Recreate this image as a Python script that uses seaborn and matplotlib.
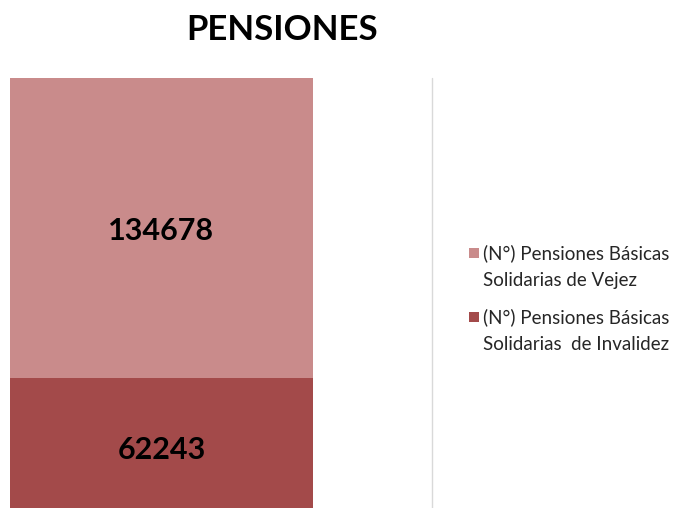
import matplotlib
matplotlib.use("Agg")
import matplotlib.pyplot as plt
import matplotlib.transforms as mtransforms
import seaborn as sns
import pandas as pd
from matplotlib.lines import Line2D
from matplotlib.patches import Rectangle

sns.set_theme(style="white")
plt.rcParams['font.family'] = ['Lato', 'DejaVu Sans']

title = "PENSIONES"
categories = ["Pensiones"]
series_names = ["(N°) Pensiones Básicas\nSolidarias de Vejez",
                "(N°) Pensiones Básicas\nSolidarias  de Invalidez"]
vejez = [134678]
invalidez = [62243]
colors = ["#C98B8B", "#A34A4A"]

df = pd.DataFrame({"cat": categories, "vejez": vejez, "invalidez": invalidez})
df["total"] = df["vejez"] + df["invalidez"]

W, H = 680, 508
fig = plt.figure(figsize=(6.8, 5.08), dpi=100)
ax = fig.add_axes([10/W, -8/H, 303/W, 438/H])

sns.barplot(data=df, x="cat", y="total", color=colors[0], width=1.0,
            saturation=1, ax=ax, linewidth=0)
sns.barplot(data=df, x="cat", y="invalidez", color=colors[1], width=1.0,
            saturation=1, ax=ax, linewidth=0)

ax.set_xlim(-0.5, 0.5)
ax.set_ylim(0, float(df["total"].max()))
ax.set_axis_off()

shift = mtransforms.offset_copy(ax.transData, fig=fig, x=0, y=-2.5, units="points")
for i, row in df.iterrows():
    ax.text(i, row["invalidez"] + row["vejez"] / 2, f"{row['vejez']}",
            ha="center", va="center", fontsize=22, fontweight="bold",
            color="black", transform=shift)
    ax.text(i, row["invalidez"] / 2, f"{row['invalidez']}",
            ha="center", va="center", fontsize=22, fontweight="bold",
            color="black", transform=shift)

fig.text(282/W, 1 - 30/H, title, ha="center", va="center",
         fontsize=25, fontweight="bold", color="black")

fig.add_artist(Line2D([432/W, 432/W], [0, 1 - 78/H], color="#D9D9D9", lw=1))

# legend
entry_y = [253, 317]
line_gap = 27.5
for name, c, y0 in zip(series_names, colors, entry_y):
    fig.add_artist(Rectangle((469/W, 1 - (y0 + 5)/H), 10/W, 10/H,
                             transform=fig.transFigure, facecolor=c, edgecolor="none"))
    for k, line in enumerate(name.split("\n")):
        fig.text(483/W, 1 - (y0 + k * line_gap)/H, line, ha="left", va="center",
                 fontsize=13.5, color="#262626")

fig.savefig("out.png", dpi=100)
